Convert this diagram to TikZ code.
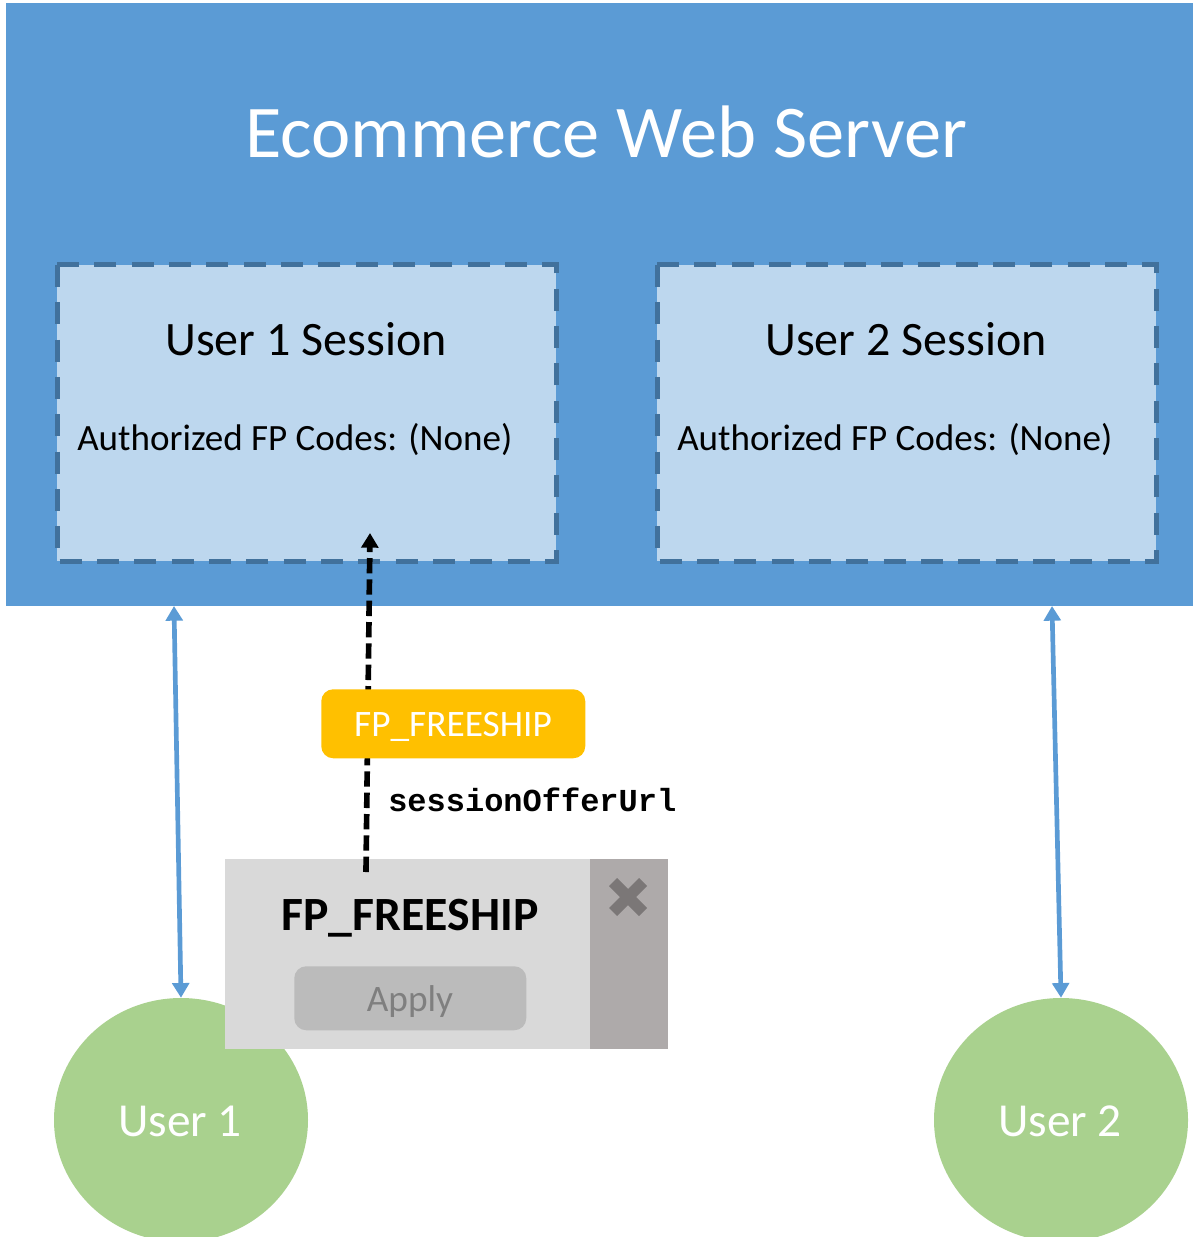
\documentclass[tikz,border=0pt]{standalone}
\usepackage{fontspec}
\setmainfont{Carlito}
\setmonofont{Liberation Mono}
\usetikzlibrary{arrows.meta,shapes.geometric}

\definecolor{serverBlue}{RGB}{91,155,213}
\definecolor{sessionBlue}{RGB}{189,215,238}
\definecolor{sessionEdge}{RGB}{65,113,156}
\definecolor{userGreen}{RGB}{169,209,142}
\definecolor{tokenAmber}{RGB}{255,192,0}
\definecolor{popupGrey}{RGB}{217,217,217}
\definecolor{closeGrey}{RGB}{174,170,170}
\definecolor{crossGrey}{RGB}{123,119,119}
\definecolor{applyGrey}{RGB}{187,187,187}
\definecolor{applyText}{RGB}{127,127,127}

\tikzset{
  sessionbox/.style={draw=sessionEdge,fill=sessionBlue,line width=3.75pt,dash pattern=on 16.5pt off 11.5pt},
  userdisc/.style={ellipse,fill=userGreen,minimum width=190.5pt,minimum height=183pt,inner sep=0pt},
  flatbox/.style={inner sep=0pt,anchor=north west},
  linkarrow/.style={draw=serverBlue,line width=3.5pt,{Triangle[length=11pt,width=12.5pt]}-{Triangle[length=11pt,width=12.5pt]}},
  title/.style={anchor=base,inner sep=0pt,font=\fontsize{55.8}{64}\selectfont,text=white},
  heading/.style={anchor=base,inner sep=0pt,font=\fontsize{36}{42}\selectfont},
  codes/.style={anchor=base west,inner sep=0pt,font=\fontsize{27.8}{33}\selectfont},
}

\begin{document}
\begin{tikzpicture}[x=0.75pt,y=0.75pt,yscale=-1]
\useasboundingbox (0,0) rectangle (1192,1237);

%Server and sessions
\node [flatbox,fill=serverBlue,minimum width=892.5pt,minimum height=452.25pt] (server) at (6,3) {};
\node [title] (serverTitle) at (606,158) {Ecommerce Web Server};
\draw [sessionbox] (57,265) rectangle (556,561);
\draw [sessionbox] (657,265) rectangle (1156,561);
\node [heading] (sessionOne) at (306,355) {User 1 Session};
\node [heading] (sessionTwo) at (906,355) {User 2 Session};
\node [codes] (codesOne) at (77,450) {Authorized FP Codes: (None)};
\node [codes] (codesTwo) at (677,450) {Authorized FP Codes: (None)};

%Users
\begin{scope}
\clip (0,0) rectangle (1192,1237);
\node [userdisc] (userOne) at (181,1120) {};
\node [userdisc] (userTwo) at (1061,1120) {};
\end{scope}
\node [title,font=\fontsize{35.5}{42}\selectfont] (userOneText) at (180,1136) {User 1};
\node [title,font=\fontsize{35.5}{42}\selectfont] (userTwoText) at (1060,1136) {User 2};

%Links to the server
\coordinate (linkOne) at (174,606);
\coordinate (linkTwo) at (1052,606);
\draw [linkarrow] (linkOne) -- (userOne.north);
\draw [linkarrow] (linkTwo) -- (userTwo.north);

%Popup
\node [flatbox,fill=popupGrey,minimum width=273.75pt,minimum height=142.5pt] (popup) at (225,859) {};
\node [flatbox,fill=closeGrey,minimum width=58.5pt,minimum height=142.5pt] (closeBar) at (590,859) {};
\draw [crossGrey,line width=8.5pt] (613,882) -- (643,912) (643,882) -- (613,912);
\node [heading,font=\bfseries\fontsize{35.8}{42}\selectfont] (popupTitle) at (410,930) {FP\_FREESHIP};
\node [flatbox,fill=applyGrey,rounded corners=9pt,minimum width=174pt,minimum height=48pt] (applyBtn) at (294,966) {};
\node [anchor=base,inner sep=0pt,text=applyText,font=\fontsize{28}{33}\selectfont] (applyText) at (410,1011) {Apply};

%Offer token
\coordinate (tokenStart) at (366,872);
\coordinate (tokenEnd) at (370,533);
\draw [line width=4.25pt,dash pattern=on 11.5pt off 4.5pt,-{Triangle[length=11pt,width=12.5pt]}] (tokenStart) -- (tokenEnd);
\node [flatbox,fill=tokenAmber,rounded corners=9pt,minimum width=198pt,minimum height=51.75pt] (token) at (321,689) {};
\node [anchor=base,inner sep=0pt,text=white,font=\fontsize{28}{33}\selectfont] (tokenText) at (453,736) {FP\_FREESHIP};
\node [anchor=base west,inner sep=0pt,font=\ttfamily\bfseries\fontsize{24}{28}\selectfont] (offerUrl) at (388,811) {sessionOfferUrl};

\end{tikzpicture}
\end{document}
